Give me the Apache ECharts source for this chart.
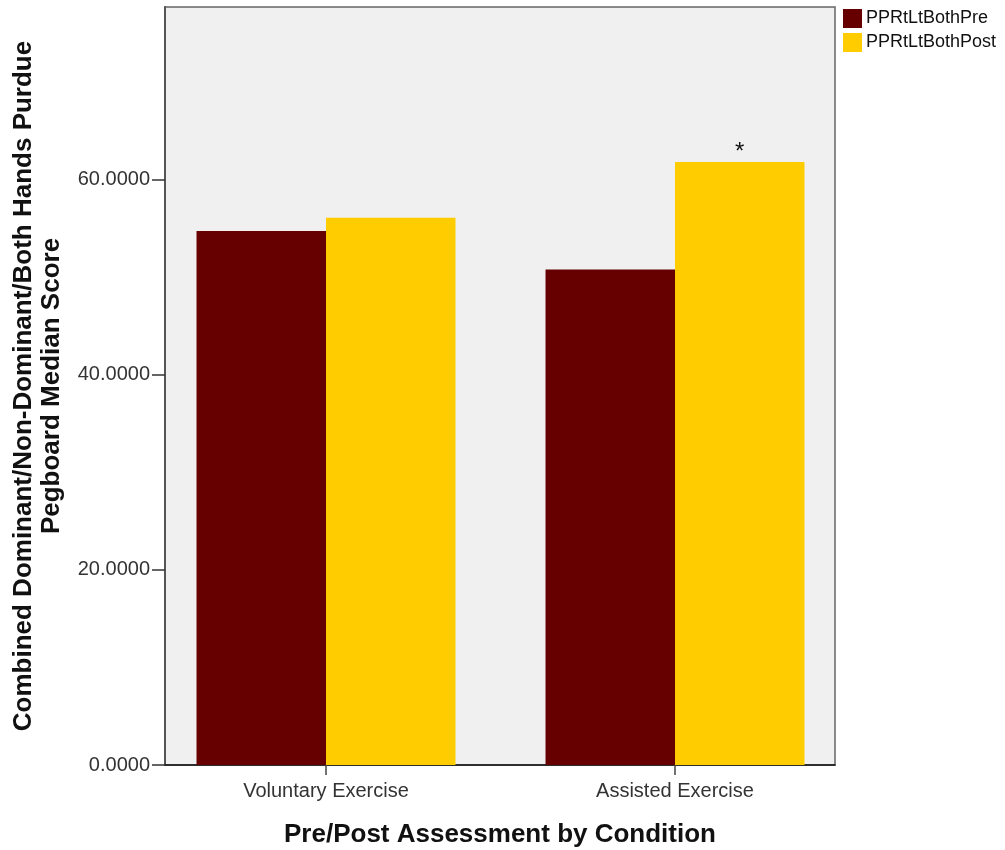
<!DOCTYPE html>
<html>
<head>
<meta charset="utf-8">
<script src="https://cdn.jsdelivr.net/npm/echarts@6/dist/echarts.min.js"></script>
<style>
html,body{margin:0;padding:0;background:#fff;}
#chart{width:1005px;height:850px;}
</style>
</head>
<body>
<div id="chart"></div>
<script>
var categories = ['Voluntary Exercise', 'Assisted Exercise'];
var preValues = [54.75, 50.8];
var postValues = [56.1, 61.8];
var seriesNames = ['PPRtLtBothPre', 'PPRtLtBothPost'];
var yTicks = [0, 20, 40, 60];
var significant = [false, true];

var FONT = '"Liberation Sans", Arial, sans-serif';
var yMax = 77.7;

var chart = echarts.init(document.getElementById('chart'));

var postData = postValues.map(function (v, i) {
  return significant[i]
    ? { value: v, label: { show: true, position: 'top', formatter: '*', fontSize: 24, color: '#111', fontFamily: FONT, distance: -2 } }
    : v;
});

chart.setOption({
  backgroundColor: '#ffffff',
  animation: false,
  legend: {
    orient: 'vertical',
    left: 838,
    top: 4,
    itemWidth: 19,
    itemHeight: 19,
    itemGap: 5,
    icon: 'rect',
    textStyle: { fontFamily: FONT, fontSize: 18, color: '#111', padding: [0, 0, 0, -1] },
    data: seriesNames
  },
  grid: [
    { left: 165, right: 170, top: 7, bottom: 85, show: true, backgroundColor: '#f0f0f0', borderColor: '#666', borderWidth: 1.5, outerBoundsMode: 'none' },
    { left: 151.5, right: 155.5, top: 7, bottom: 85, show: false, outerBoundsMode: 'none' }
  ],
  xAxis: [
    {
      gridIndex: 0, type: 'category', data: categories,
      axisLine: { show: true, lineStyle: { color: '#111', width: 1.5 } },
      axisTick: { show: false }, axisLabel: { show: false }, splitLine: { show: false },
      name: 'Pre/Post Assessment by Condition', nameLocation: 'middle', nameGap: 57,
      nameTextStyle: { fontFamily: FONT, fontWeight: 'bold', fontSize: 26, color: '#111' }
    },
    {
      gridIndex: 1, type: 'category', data: categories,
      axisLine: { show: false },
      axisTick: { show: true, alignWithLabel: true, length: 10, lineStyle: { color: '#444', width: 1.5 } },
      axisLabel: { fontFamily: FONT, fontSize: 20, color: '#333', margin: 16 },
      splitLine: { show: false }
    }
  ],
  yAxis: [
    {
      gridIndex: 0, type: 'value', min: 0, max: yMax,
      axisLine: { show: true, lineStyle: { color: '#555', width: 2 } },
      axisTick: { show: true, length: 13, customValues: yTicks, lineStyle: { color: '#333', width: 1.5 } },
      axisLabel: { customValues: yTicks, fontFamily: FONT, fontSize: 20, color: '#333', margin: 15,
        formatter: function (v) { return Number(v).toFixed(4); } },
      splitLine: { show: false },
      name: 'Combined Dominant/Non-Dominant/Both Hands Purdue\nPegboard Median Score',
      nameLocation: 'middle', nameGap: 99, nameRotate: 90,
      nameTextStyle: { fontFamily: FONT, fontWeight: 'bold', fontSize: 26, color: '#111', lineHeight: 28 }
    },
    {
      gridIndex: 1, type: 'value', min: 0, max: yMax, show: false
    }
  ],
  series: [
    {
      name: seriesNames[0], type: 'bar', xAxisIndex: 1, yAxisIndex: 1,
      data: preValues, itemStyle: { color: '#660000' },
      barGap: '0%', barCategoryGap: '25.8%'
    },
    {
      name: seriesNames[1], type: 'bar', xAxisIndex: 1, yAxisIndex: 1,
      data: postData, itemStyle: { color: '#ffcc00' },
      barGap: '0%', barCategoryGap: '25.8%'
    }
  ]
});
</script>
</body>
</html>
